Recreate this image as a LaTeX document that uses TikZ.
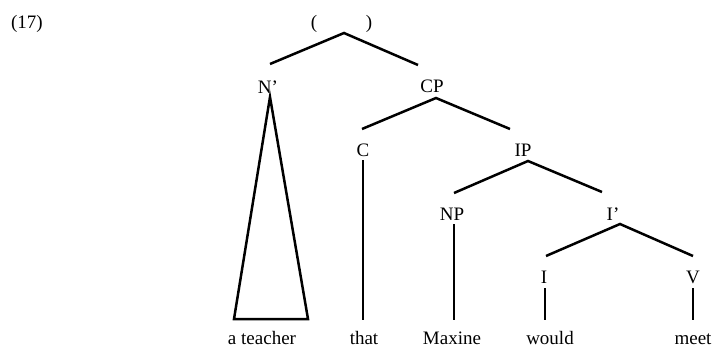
\documentclass[tikz,border=0pt]{standalone}
\usepackage{fontspec}
\setmainfont{Liberation Serif}
\begin{document}
\begin{tikzpicture}[x=1pt,y=-1pt,
  lbl/.style={inner sep=0pt,anchor=base,font=\fontsize{19}{19}\selectfont},
  edge/.style={line width=2.5pt,line cap=butt}]
\useasboundingbox (0,0) rectangle (718,349);
% labels
\node[lbl] (num) at (27,28) {(17)};
\node[lbl] (root) at (341.5,28) {(\hspace{48.7pt})};
\node[lbl] (Nbar) at (268,93) {N'};
\node[lbl] (CP) at (432,92) {CP};
\node[lbl] (C) at (363,156) {C};
\node[lbl] (IP) at (523,156) {IP};
\node[lbl] (NP) at (452,220) {NP};
\node[lbl] (Ibar) at (613,220) {I'};
\node[lbl] (I) at (544,283) {I};
\node[lbl] (V) at (693,283) {V};
\node[lbl] (w1) at (262,344.5) {a teacher};
\node[lbl] (w2) at (364,344.5) {that};
\node[lbl] (w3) at (452,344.5) {Maxine};
\node[lbl] (w4) at (550,344.5) {would};
\node[lbl] (w5) at (693,344.5) {meet};
% line end points
\coordinate (rootA) at (344,33);
\coordinate (NbarT) at (270,64);
\coordinate (CPT) at (418,65);
\coordinate (NbarA) at (270,97);
\coordinate (triL) at (234,319);
\coordinate (triR) at (308,319);
\coordinate (CPA) at (436,98);
\coordinate (CT) at (362,129);
\coordinate (IPT) at (510,129);
\coordinate (CB) at (363,160);
\coordinate (CE) at (363,320);
\coordinate (IPA) at (528,161);
\coordinate (NPT) at (454,193);
\coordinate (IbarT) at (602,192);
\coordinate (NPB) at (454,224);
\coordinate (NPE) at (454,320);
\coordinate (IbarA) at (620,224);
\coordinate (IT) at (546,256);
\coordinate (VT) at (693,256);
\coordinate (IB) at (545,288);
\coordinate (IE) at (545,320);
\coordinate (VB) at (693,288);
\coordinate (VE) at (693,320);
% branches
\draw[edge] (NbarT) -- (rootA) -- (CPT);
\draw[edge,line join=miter] (triL) -- (NbarA) -- (triR) -- cycle;
\draw[edge] (CT) -- (CPA) -- (IPT);
\draw[edge] (CB) -- (CE);
\draw[edge] (NPT) -- (IPA) -- (IbarT);
\draw[edge] (NPB) -- (NPE);
\draw[edge] (IT) -- (IbarA) -- (VT);
\draw[edge] (IB) -- (IE);
\draw[edge] (VB) -- (VE);
\end{tikzpicture}
\end{document}
